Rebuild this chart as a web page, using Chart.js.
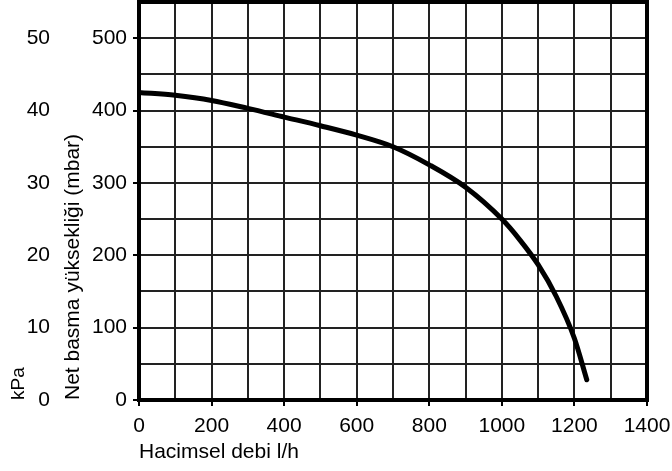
<!DOCTYPE html>
<html>
<head>
<meta charset="utf-8">
<script src="https://cdn.jsdelivr.net/npm/chart.js@4"></script>
<style>
  body { margin: 0; background: #fff; }
  canvas { display: block; }
</style>
</head>
<body>
<canvas id="pumpChart" width="672" height="471"></canvas>
<script>
// pump curve
const flowValues = [0, 100, 200, 300, 400, 500, 600, 700, 800, 900, 1000, 1050, 1100, 1150, 1200, 1234];
const headValues = [425, 421, 414, 403, 391, 379, 366, 350, 325, 294, 250, 221, 187, 143, 85, 28];

const xTitle = "Hacimsel debi l/h";
const yTitle = "Net basma yüksekliği (mbar)";
const kpaTitle = "kPa";

const fontFamily = "'Liberation Sans', Arial, sans-serif";

const frame = {
    id: "frame",
    afterDraw(chart) {
        const a = chart.chartArea;
        const ctx = chart.ctx;
        ctx.save();
        ctx.strokeStyle = "#000";
        ctx.lineWidth = 4;
        ctx.strokeRect(a.left, a.top, a.right - a.left, a.bottom - a.top);
        ctx.restore();
    }
};

const points = flowValues.map((x, i) => ({ x: x, y: headValues[i] }));

new Chart(document.getElementById("pumpChart").getContext("2d"), {
    type: "line",
    data: {
        datasets: [{
            data: points,
            borderColor: "#000",
            borderWidth: 5,
            borderCapStyle: "round",
            pointRadius: 0,
            cubicInterpolationMode: "monotone",
            fill: false
        }]
    },
    options: {
        responsive: false,
        animation: false,
        layout: { padding: { top: 2, right: 25, left: 0, bottom: 0 } },
        plugins: { legend: { display: false }, tooltip: { enabled: false } },
        scales: {
            x: {
                type: "linear",
                min: 0,
                max: 1400,
                afterFit(scale) {
                    scale.height = 71;
                    scale.paddingLeft = 0;
                    scale.paddingRight = 0;
                },
                border: { display: false },
                grid: {
                    color: "#222",
                    lineWidth: 2,
                    tickLength: 6,
                    tickWidth: 2,
                    tickColor: c => (c.tick && c.tick.value % 200 === 0) ? "#000" : "rgba(0,0,0,0)"
                },
                ticks: {
                    stepSize: 100,
                    maxRotation: 0,
                    autoSkip: false,
                    padding: 8,
                    color: "#000",
                    font: { family: fontFamily, size: 21 },
                    callback: v => v % 200 === 0 ? v : ""
                },
                title: {
                    display: true,
                    text: xTitle,
                    align: "start",
                    color: "#000",
                    font: { family: fontFamily, size: 21 },
                    padding: { top: 0, bottom: 6 }
                }
            },
            y: {
                type: "linear",
                position: "left",
                weight: 0,
                min: 0,
                max: 550,
                afterFit(scale) {
                    scale.width = 77;
                    scale.paddingTop = 0;
                    scale.paddingBottom = 0;
                },
                border: { display: false },
                grid: {
                    color: "#222",
                    lineWidth: 2,
                    tickLength: 6,
                    tickWidth: 2,
                    tickColor: c => (c.tick && c.tick.value % 100 === 0) ? "#000" : "rgba(0,0,0,0)"
                },
                ticks: {
                    stepSize: 50,
                    autoSkip: false,
                    padding: 6,
                    color: "#000",
                    font: { family: fontFamily, size: 21 },
                    callback: v => v % 100 === 0 ? v : ""
                },
                title: {
                    display: true,
                    text: yTitle,
                    align: "start",
                    color: "#000",
                    font: { family: fontFamily, size: 21 },
                    padding: { top: -1, bottom: 0 }
                }
            },
            kpa: {
                type: "linear",
                position: "left",
                weight: 1,
                min: 0,
                max: 55,
                afterFit(scale) {
                    scale.width = 62;
                    scale.paddingTop = 0;
                    scale.paddingBottom = 0;
                },
                border: { display: false },
                grid: { display: false, drawTicks: false },
                ticks: {
                    stepSize: 10,
                    includeBounds: false,
                    autoSkip: false,
                    padding: 12,
                    color: "#000",
                    font: { family: fontFamily, size: 21 }
                },
                title: {
                    display: true,
                    text: kpaTitle,
                    align: "start",
                    color: "#000",
                    font: { family: fontFamily, size: 19 },
                    padding: { top: 7, bottom: 0 }
                }
            }
        }
    },
    plugins: [frame]
});
</script>
</body>
</html>
